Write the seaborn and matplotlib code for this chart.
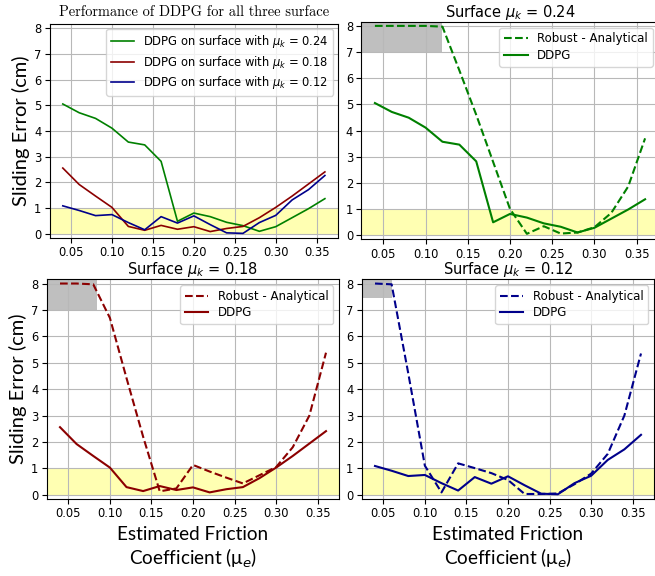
import numpy as np
import pandas as pd
import seaborn as sns
import matplotlib.pyplot as plt

# estimated friction coefficient (x axis)
mu_e = [0.04, 0.06, 0.08, 0.10, 0.12, 0.14, 0.16, 0.18, 0.20,
        0.22, 0.24, 0.26, 0.28, 0.30, 0.32, 0.34, 0.36]

# DDPG sliding error (cm)
ddpg_024 = [5.05, 4.71, 4.49, 4.11, 3.57, 3.46, 2.82, 0.49, 0.81,
            0.67, 0.45, 0.32, 0.10, 0.28, 0.63, 0.98, 1.37]
ddpg_018 = [2.56, 1.92, 1.47, 1.03, 0.29, 0.14, 0.33, 0.18, 0.28,
            0.09, 0.21, 0.29, 0.63, 1.03, 1.47, 1.94, 2.41]
ddpg_012 = [1.09, 0.91, 0.71, 0.75, 0.44, 0.16, 0.67, 0.42, 0.70,
            0.36, 0.04, 0.02, 0.44, 0.72, 1.32, 1.72, 2.27]

# Robust - Analytical sliding error (cm)
robust_024 = [8.0, 8.0, 8.0, 8.0, 7.97, 6.3, 4.6, 2.8, 1.0,
              0.05, 0.34, 0.06, 0.10, 0.30, 0.85, 1.86, 3.70]
robust_018 = [8.0, 8.0, 7.97, 6.70, 4.42, 2.20, 0.13, 0.24, 1.13,
              0.88, 0.65, 0.43, 0.74, 1.05, 1.80, 3.00, 5.38]
robust_012 = [8.0, 7.97, 4.60, 1.10, 0.09, 1.19, 1.01, 0.82, 0.56,
              0.03, 0.03, 0.05, 0.40, 0.80, 1.55, 3.00, 5.35]

surfaces = ['0.24', '0.18', '0.12']
colors = ['green', 'darkred', 'darkblue']

# gray "saturated" region of the analytical controller: (x end, y start)
gray_boxes = [(0.12, 7.0), (0.085, 7.0), (0.06, 7.45)]

XLIM = (0.024, 0.376)
YLIM = (-0.16, 8.16)
LABEL_FONT = 'Lato'


def style_axes(ax):
    ax.axhspan(0, 1, color='yellow', alpha=0.3, lw=0)
    ax.set_xlim(*XLIM)
    ax.set_ylim(*YLIM)
    ax.set_yticks(range(0, 9))
    ax.set_xticks([0.05, 0.10, 0.15, 0.20, 0.25, 0.30, 0.35])
    ax.grid(True, color='#b8b8b8', lw=0.8)
    ax.tick_params(labelsize=8.3, pad=2.5)
    ax.set_xlabel('')
    ax.set_ylabel('')


def main():
    fig = plt.figure(figsize=(6.55, 5.76), dpi=100)
    H = 576.0
    W = 655.0

    def box(l, r, t, b):
        return [l / W, (H - b) / H, (r - l) / W, (b - t) / H]

    ax_all = fig.add_axes(box(49.7, 338, 24, 238))
    ax_024 = fig.add_axes(box(361.4, 658.6, 21.7, 239.3))
    ax_018 = fig.add_axes(box(46.7, 339.3, 279.3, 499))
    ax_012 = fig.add_axes(box(361.7, 654.3, 279.3, 499))

    ddpg = [ddpg_024, ddpg_018, ddpg_012]
    robust = [robust_024, robust_018, robust_012]

    # overview panel
    for vals, mu, c in zip(ddpg, surfaces, colors):
        sns.lineplot(x=mu_e, y=vals, ax=ax_all, color=c, lw=1.2,
                     label=r'DDPG on surface with $\mu_k$ = ' + mu)
    style_axes(ax_all)
    ax_all.set_title('Performance of DDPG for all three surface',
                     fontfamily='cmr10', fontsize=10.4, pad=6)
    ax_all.legend(loc='upper right', fontsize=8.3, labelspacing=0.3,
                  borderaxespad=0.4)

    # one panel per surface
    for ax, d, r, mu, c, gb in zip([ax_024, ax_018, ax_012], ddpg, robust,
                                    surfaces, colors, gray_boxes):
        ax.fill_between([0.0, gb[0]], gb[1], 8.5, color='gray', alpha=0.5, lw=0)
        sns.lineplot(x=mu_e, y=r, ax=ax, color=c, lw=1.5, linestyle='--',
                     label='Robust - Analytical')
        sns.lineplot(x=mu_e, y=d, ax=ax, color=c, lw=1.5, label='DDPG')
        style_axes(ax)
        ax.set_title(r'Surface $\mu_k$ = ' + mu, fontsize=10.5, pad=2)
        ax.legend(loc='upper right', fontsize=8.5, labelspacing=0.3)

    for ax in [ax_all, ax_018]:
        ax.set_ylabel('Sliding Error (cm)', fontfamily=LABEL_FONT,
                      fontsize=14.5, labelpad=3)
    for ax in [ax_018, ax_012]:
        ax.set_xlabel('Estimated Friction\nCoefficient ($\\mathregular{\\mu}_e$)',
                      fontfamily=LABEL_FONT, fontsize=13.6, labelpad=4,
                      linespacing=1.2)

    fig.savefig('out.png', dpi=100)


if __name__ == "__main__":
    main()
